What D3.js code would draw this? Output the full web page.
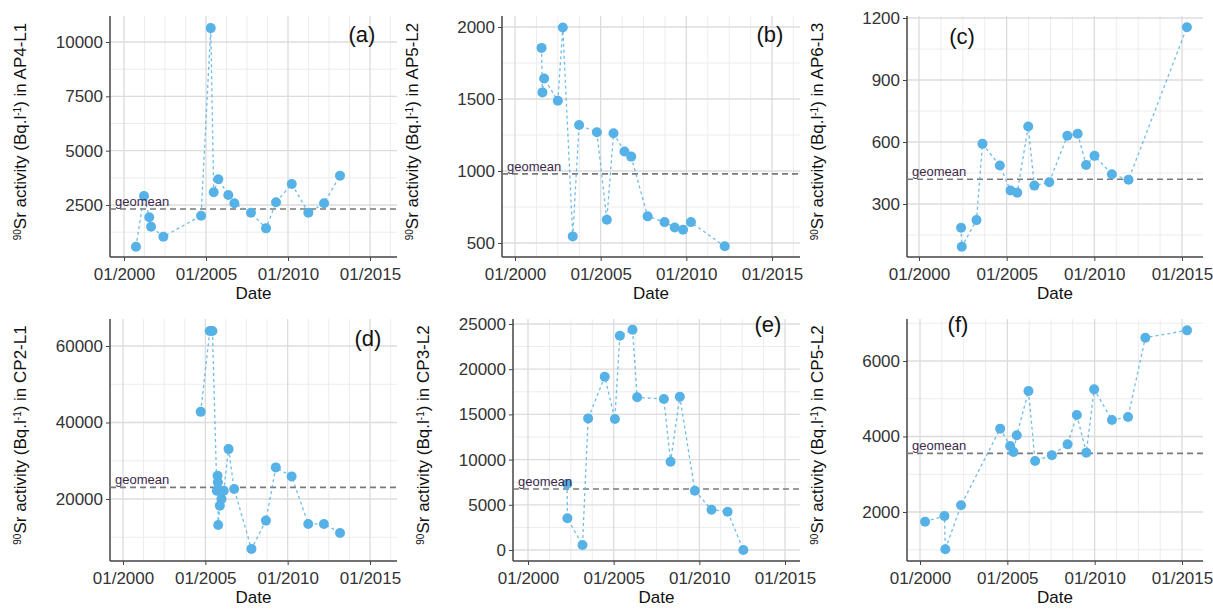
<!DOCTYPE html>
<html><head><meta charset="utf-8">
<script src="https://cdn.jsdelivr.net/npm/d3@7"></script>
<style>body{margin:0;background:#fff}svg{font-family:"Liberation Sans",Arial,sans-serif}</style>
</head><body><svg id="c" width="1213" height="612"></svg>
<script>
// ---- data ----
const panelIds = ["a","b","c","d","e","f"];
const wells = ["AP4-L1","AP5-L2","AP6-L3","CP2-L1","CP3-L2","CP5-L2"];
const xTickLabels = ["01/2000","01/2005","01/2010","01/2015"];
const xTickYears = [2000,2005,2010,2015];
const yTicks = [[2500,5000,7500,10000],[500,1000,1500,2000],[300,600,900,1200],[20000,40000,60000],[0,5000,10000,15000,20000,25000],[2000,4000,6000]];
const geomeans = [2316,980,420,23040,6750,3554];
const datesA=[2000.73,2001.22,2001.54,2001.65,2002.40,2004.70,2005.29,2005.47,2005.75,2006.36,2006.73,2007.74,2008.66,2009.27,2010.23,2011.24,2012.20,2013.17];
const valsA=[579,2915,1933,1500,1040,2007,10640,3085,3684,2960,2578,2145,1426,2624,3468,2145,2578,3850];
const datesB=[2001.55,2001.60,2001.70,2002.50,2002.79,2003.37,2003.74,2004.78,2005.36,2005.75,2006.39,2006.78,2007.74,2008.73,2009.32,2009.81,2010.27,2012.24];
const valsB=[1855,1546,1642,1488,1996,546,1319,1269,662,1262,1135,1100,685,645,608,592,645,477];
const datesC=[2002.40,2002.44,2003.28,2003.62,2004.61,2005.22,2005.60,2006.23,2006.58,2007.43,2008.46,2009.05,2009.53,2010.01,2011.00,2011.95,2015.28];
const valsC=[185,93,222,591,486,365,355,675,389,405,630,640,489,533,444,417,1155];
const datesD=[2004.72,2005.27,2005.43,2005.70,2005.74,2005.76,2005.78,2005.88,2005.98,2006.12,2006.41,2006.75,2007.80,2008.68,2009.28,2010.24,2011.25,2012.20,2013.18];
const valsD=[42780,63910,63910,22170,26090,24350,13220,18260,20000,22170,33040,22610,6960,14350,28260,25910,13480,13480,11130];
const datesE=[2002.28,2002.30,2003.18,2003.51,2004.48,2005.07,2005.36,2006.10,2006.37,2007.93,2008.32,2008.86,2009.74,2010.71,2011.65,2012.57];
const valsE=[7300,3503,553,14560,19170,14490,23710,24370,16890,16700,9770,16960,6563,4461,4240,0];
const datesF=[2000.29,2001.40,2001.45,2002.35,2004.59,2005.16,2005.35,2005.54,2006.21,2006.59,2007.55,2008.45,2008.98,2009.52,2009.97,2010.99,2011.91,2012.90,2015.29];
const valsF=[1744,1894,1011,2177,4208,3748,3589,4031,5205,3351,3501,3792,4570,3572,5249,4437,4517,6618,6812];
const allDates=[datesA,datesB,datesC,datesD,datesE,datesF];
const allVals=[valsA,valsB,valsC,valsD,valsE,valsF];

// ---- layout ----
const L = [
 {ax:110,right:397,x0:124,x1:370,top:16,bot:257,yv:[2500,10000],yp:[205,42],lab:[362,42]},
 {ax:502,right:800,x0:515,x1:772,top:16,bot:257,yv:[500,2000],yp:[243,27],lab:[770,42]},
 {ax:907,right:1203,x0:919,x1:1182,top:16,bot:257,yv:[300,1200],yp:[204,18],lab:[962,44]},
 {ax:110,right:397,x0:123,x1:370,top:319,bot:561,yv:[20000,60000],yp:[499,346],lab:[368,346]},
 {ax:513,right:800,x0:528,x1:785,top:319,bot:561,yv:[0,25000],yp:[550,324],lab:[768,332]},
 {ax:907,right:1203,x0:920,x1:1182,top:319,bot:561,yv:[2000,6000],yp:[512,361],lab:[958,332]}
];
const svg=d3.select("#c");
const blue="#56B1E6";
L.forEach((p,i)=>{
  const x=d3.scaleLinear().domain([2000,2015]).range([p.x0,p.x1]);
  const y=d3.scaleLinear().domain(p.yv).range(p.yp);
  const g=svg.append("g");
  const xmin=x.invert(p.ax), xmax=x.invert(p.right);
  const ymin=y.invert(p.bot), ymax=y.invert(p.top);
  const minorX=d3.range(1998.75,2017,1.25).filter(v=>v>xmin&&v<xmax&&!xTickYears.includes(v));
  g.selectAll(".mx").data(minorX).join("line").attr("x1",d=>x(d)).attr("x2",d=>x(d)).attr("y1",p.top).attr("y2",p.bot).attr("stroke","#ececec").attr("stroke-width",1);
  const t=yTicks[i], step=t[1]-t[0];
  const minorY=d3.range(t[0]-step*1.5,t[t.length-1]+step,step).filter(v=>v>ymin&&v<ymax);
  g.selectAll(".my").data(minorY).join("line").attr("x1",p.ax).attr("x2",p.right).attr("y1",d=>y(d)).attr("y2",d=>y(d)).attr("stroke","#ececec");
  g.selectAll(".gx").data(xTickYears).join("line").attr("x1",d=>x(d)).attr("x2",d=>x(d)).attr("y1",p.top).attr("y2",p.bot).attr("stroke","#dcdcdc").attr("stroke-width",1.3);
  g.selectAll(".gy").data(t).join("line").attr("x1",p.ax).attr("x2",p.right).attr("y1",d=>y(d)).attr("y2",d=>y(d)).attr("stroke","#dcdcdc").attr("stroke-width",1.3);
  const xa=g.append("g").attr("transform",`translate(0,${p.bot})`).call(d3.axisBottom(x).tickValues(xTickYears).tickFormat((d,k)=>xTickLabels[k]).tickSize(4).tickSizeOuter(0));
  const ya=g.append("g").attr("transform",`translate(${p.ax},0)`).call(d3.axisLeft(y).tickValues(t).tickFormat(d3.format("d")).tickSize(4).tickSizeOuter(0));
  [xa,ya].forEach(a=>{a.select(".domain").remove();a.selectAll("line").attr("stroke","#444");a.selectAll("text").attr("fill","#333").style("font-size","17px");});
  xa.selectAll("text").attr("dy","0.95em");
  g.append("line").attr("x1",p.ax).attr("x2",p.ax).attr("y1",p.top).attr("y2",p.bot).attr("stroke","#444").attr("stroke-width",1.5);
  g.append("line").attr("x1",p.ax).attr("x2",p.right).attr("y1",p.bot).attr("y2",p.bot).attr("stroke","#444").attr("stroke-width",1.5);
  const gy=y(geomeans[i]);
  g.append("line").attr("x1",p.ax).attr("x2",p.right).attr("y1",gy).attr("y2",gy).attr("stroke","#7a7a7a").attr("stroke-width",1.6).attr("stroke-dasharray","6,4");
  const data=allDates[i].map((d,k)=>({d,v:allVals[i][k]}));
  g.append("path").datum(data).attr("d",d3.line().x(d=>x(d.d)).y(d=>y(d.v))).attr("fill","none").attr("stroke",blue).attr("stroke-width",1.3).attr("stroke-dasharray","3,3").attr("opacity",0.85);
  g.selectAll(".pt").data(data).join("circle").attr("cx",d=>x(d.d)).attr("cy",d=>y(d.v)).attr("r",5).attr("fill",blue);
  g.append("text").attr("x",p.ax+5).attr("y",gy-3).text("geomean").attr("fill","#3a2a4a").style("font-size","13px");
  g.append("text").attr("x",p.lab[0]).attr("y",p.lab[1]).attr("text-anchor","middle").style("font-size","22px").attr("fill","#111").text(`(${panelIds[i]})`);
  g.append("text").attr("x",(p.ax+p.right)/2).attr("y",p.bot+42).attr("text-anchor","middle").style("font-size","17px").attr("fill","#111").text("Date");
  const yt=g.append("text").attr("transform",`translate(${p.ax-84},${(p.top+p.bot)/2-5}) rotate(-90)`).attr("text-anchor","middle").style("font-size","17px").attr("fill","#111");
  yt.append("tspan").attr("baseline-shift","super").style("font-size","10px").text("90");
  yt.append("tspan").text("Sr activity (Bq.l");
  yt.append("tspan").attr("baseline-shift","super").style("font-size","10px").text("-1");
  yt.append("tspan").text(`) in ${wells[i]}`);
});
</script></body></html>
